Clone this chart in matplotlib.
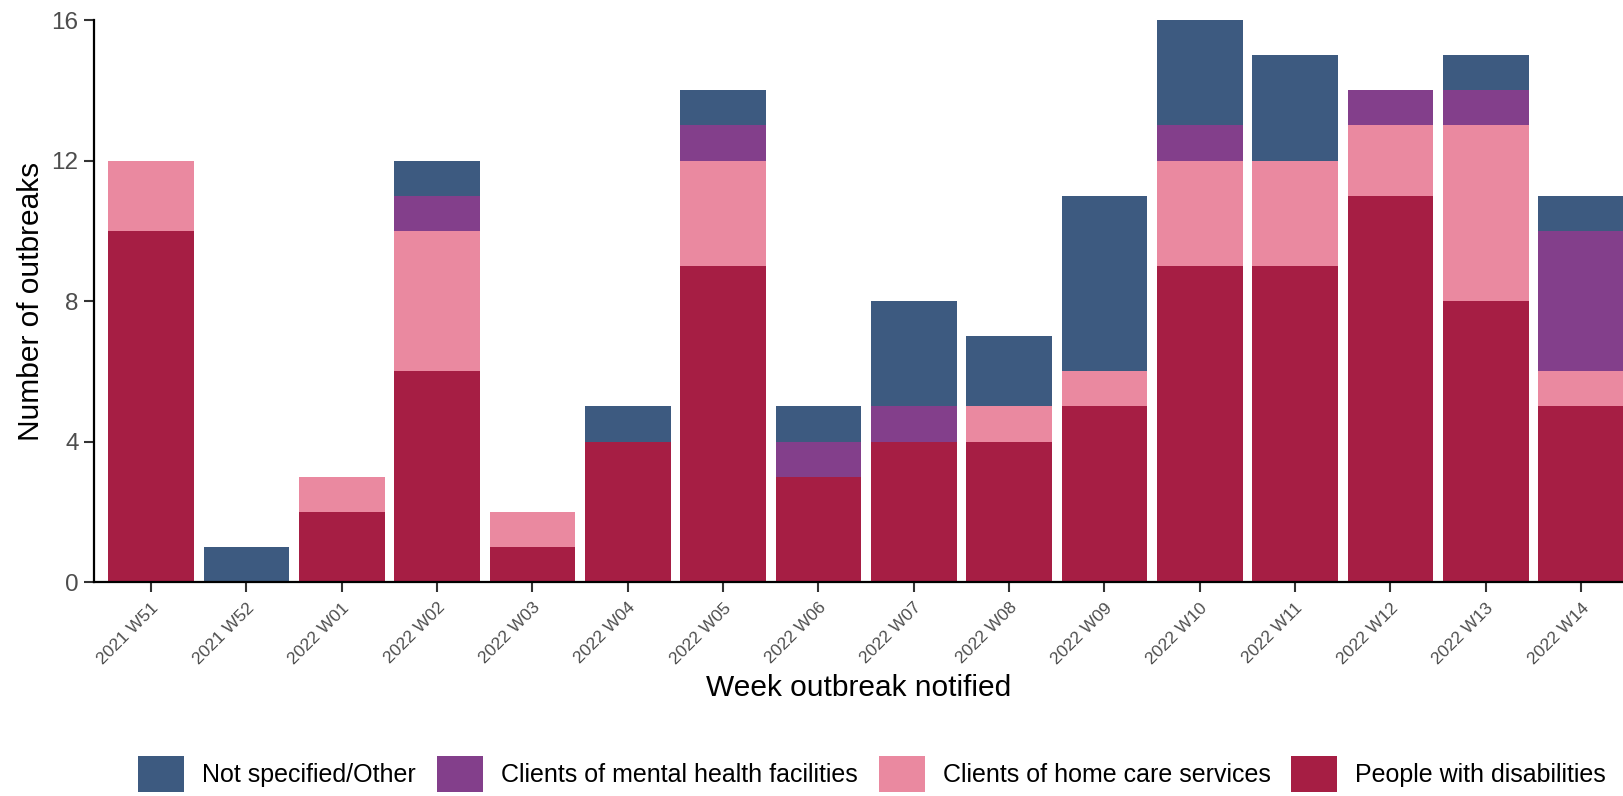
import numpy as np
import matplotlib
matplotlib.use("Agg")
import matplotlib.pyplot as plt

# Weekly outbreak counts by setting type
weeks = ["2021 W51", "2021 W52", "2022 W01", "2022 W02", "2022 W03", "2022 W04",
         "2022 W05", "2022 W06", "2022 W07", "2022 W08", "2022 W09", "2022 W10",
         "2022 W11", "2022 W12", "2022 W13", "2022 W14"]

disabilities = [10, 0, 2, 6, 1, 4, 9, 3, 4, 4, 5, 9, 9, 11, 8, 5]
home_care = [2, 0, 1, 4, 1, 0, 3, 0, 0, 1, 1, 3, 3, 2, 5, 1]
mental_health = [0, 0, 0, 1, 0, 0, 1, 1, 1, 0, 0, 1, 0, 1, 1, 4]
not_specified = [0, 1, 0, 1, 0, 1, 1, 1, 3, 2, 5, 3, 3, 0, 1, 1]

series = [
    ("People with disabilities", disabilities, "#A61E44"),
    ("Clients of home care services", home_care, "#EA89A0"),
    ("Clients of mental health facilities", mental_health, "#833F8B"),
    ("Not specified/Other", not_specified, "#3D5A80"),
]

plt.rcParams['font.family'] = ['Liberation Sans', 'DejaVu Sans']

fig = plt.figure(figsize=(16.24, 7.96), dpi=100)
ax = fig.add_axes([0.0578, 0.2688, 0.9422, 0.706])

x = np.arange(len(weeks))
bottom = np.zeros(len(weeks))
handles = {}
for name, vals, col in series:
    vals = np.array(vals)
    b = ax.bar(x, vals, width=0.9, bottom=bottom, color=col, label=name)
    handles[name] = b
    bottom += vals

ax.set_xlim(-0.6, 15.45)
ax.set_ylim(0, 16)
ax.set_yticks([0, 4, 8, 12, 16])
ax.set_xticks(x)
ax.set_xticklabels(weeks, rotation=45, ha='right', va='top',
                   rotation_mode='anchor', fontsize=12.5, color='#4D4D4D')
ax.tick_params(axis='y', labelsize=17.5, labelcolor='#4D4D4D', length=7,
               width=1.5, color='#333333', pad=4)
ax.tick_params(axis='x', length=7, width=1.5, color='#333333', pad=6)

for s in ['top', 'right']:
    ax.spines[s].set_visible(False)
for s in ['left', 'bottom']:
    ax.spines[s].set_linewidth(1.6)
    ax.spines[s].set_color('black')

ax.set_xlabel("Week outbreak notified", fontsize=21.5, labelpad=5)
ax.set_ylabel("Number of outbreaks", fontsize=21.5, labelpad=5)

order = ["Not specified/Other", "Clients of mental health facilities",
         "Clients of home care services", "People with disabilities"]
fig.legend([handles[n] for n in order], order, loc='center',
           bbox_to_anchor=(0.537, 0.028), ncol=4, frameon=False, fontsize=18,
           handlelength=1.84, handleheight=1.84, handletextpad=0.72,
           columnspacing=0.84)

fig.savefig("out.png", dpi=100)
